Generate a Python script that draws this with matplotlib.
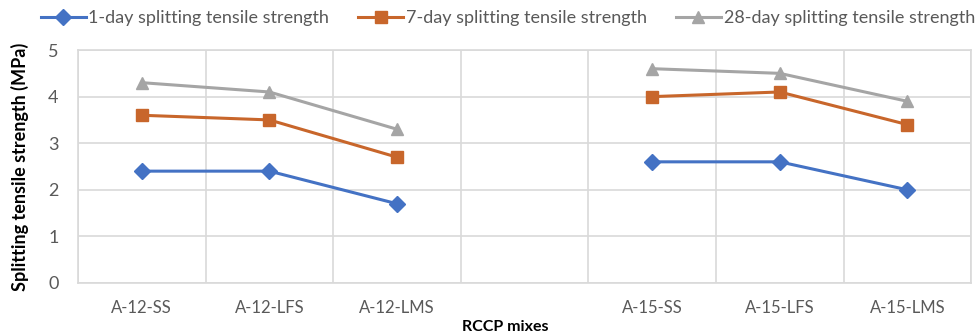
import numpy as np
import matplotlib
matplotlib.use("Agg")
import matplotlib.pyplot as plt

plt.rcParams["font.family"] = ["Lato", "DejaVu Sans"]

mixes = ["A-12-SS", "A-12-LFS", "A-12-LMS", "", "A-15-SS", "A-15-LFS", "A-15-LMS"]
day1 = [2.4, 2.4, 1.7, np.nan, 2.6, 2.6, 2.0]
day7 = [3.6, 3.5, 2.7, np.nan, 4.0, 4.1, 3.4]
day28 = [4.3, 4.1, 3.3, np.nan, 4.6, 4.5, 3.9]

series = [
    ("1-day splitting tensile strength", day1, "#4472C4", "D", 8),
    ("7-day splitting tensile strength", day7, "#C8662B", "s", 9),
    ("28-day splitting tensile strength", day28, "#A5A5A5", "^", 9),
]

fig = plt.figure(figsize=(9.75, 3.36), dpi=100)
ax = fig.add_axes([0.080, 0.158, 0.916, 0.693])

x = np.arange(len(mixes))
for label, vals, color, marker, ms in series:
    ax.plot(x, vals, color=color, lw=2.2, marker=marker, markersize=ms,
            label=label, zorder=3)

ax.set_xlim(-0.5, len(mixes) - 0.5)
ax.set_ylim(0, 5)
ax.set_yticks(range(0, 6))
ax.set_xticks(x)
ax.set_xticklabels(mixes)
# vertical grid sits between categories
ax.set_xticks(np.arange(-0.5, len(mixes)), minor=True)
ax.grid(which="minor", axis="x", color="#D9D9D9", lw=1.2)
ax.grid(which="major", axis="y", color="#D9D9D9", lw=1.2)
ax.set_axisbelow(True)
for sp in ax.spines.values():
    sp.set_color("#D9D9D9")
    sp.set_linewidth(1.2)
ax.tick_params(which="both", length=0)
ax.tick_params(axis="x", labelsize=12, colors="#595959", pad=12)
ax.tick_params(axis="y", labelsize=13, colors="#595959", pad=14)

ax.set_ylabel("Splitting tensile strength (MPa)", fontsize=13,
              fontweight="bold", labelpad=14)
fig.text(0.518, 0.005, "RCCP mixes", fontsize=11.5, fontweight="bold",
         ha="center", va="bottom")

fig.legend(loc="upper left", bbox_to_anchor=(0.036, 0.985), ncol=3,
           frameon=False, fontsize=13, handlelength=2.5, borderpad=0.3,
           borderaxespad=0, columnspacing=1.6, handletextpad=0.15,
           labelcolor="#595959")

fig.savefig("out.png", dpi=100)
